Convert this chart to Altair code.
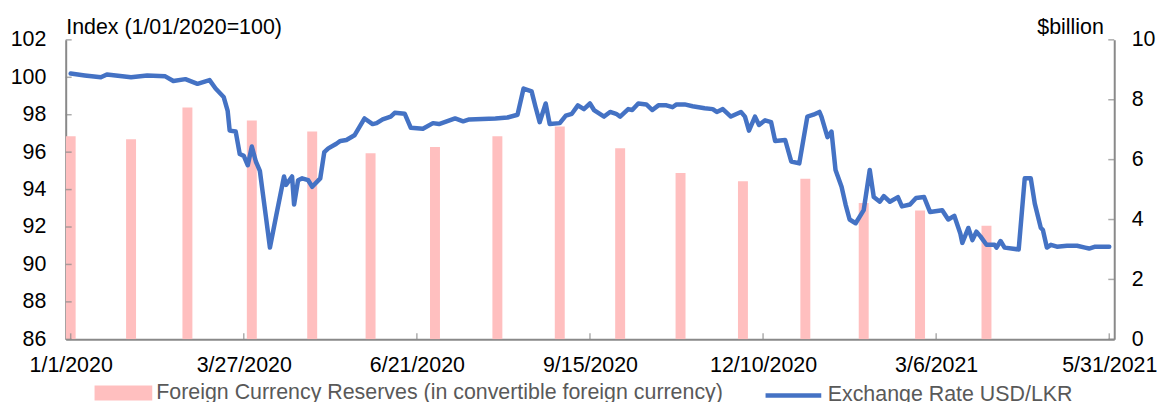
import altair as alt
import pandas as pd

# ---------------- data ----------------
BASE_DATE = "2020-01-01"
# exchange-rate index: days after 1 Jan 2020 and index value (1/01/2020 = 100)
line_days = [0, 7, 15, 18, 30, 38, 47, 51, 57, 63, 69, 72, 76, 78, 79, 82, 84, 86, 88, 90,
             92, 94, 97, 99, 102, 106, 107, 110, 111, 113, 115, 118, 120, 124, 126, 128, 132, 134, 137, 141,
             146, 150, 152, 155, 159, 161, 166, 169, 175, 180, 183, 191, 195, 198, 211, 217, 222, 225, 229, 231,
             233, 236, 238, 243, 246, 249, 252, 255, 258, 260, 265, 268, 271, 273, 277, 279, 282, 286, 289, 292,
             296, 299, 301, 305, 309, 315, 319, 321, 324, 328, 333, 335, 337, 340, 342, 345, 348, 350, 355, 358,
             362, 366, 369, 372, 373, 376, 378, 380, 383, 385, 387, 390, 394, 397, 399, 402, 404, 407, 411, 413,
             417, 420, 424, 427, 433, 436, 439, 442, 443, 446, 448, 450, 452, 455, 459, 460, 462, 464, 471, 474,
             477, 479, 482, 483, 485, 487, 490, 495, 500, 504, 506, 509, 516]
line_index = [100.2, 100.1, 100.0, 100.15, 100.0, 100.1, 100.05, 99.8, 99.9, 99.65, 99.85, 99.4, 98.95, 98.2, 97.15, 97.1, 95.9, 95.8, 95.3, 96.3,
              95.5, 95.0, 92.55, 90.9, 92.55, 94.7, 94.25, 94.7, 93.2, 94.5, 94.6, 94.5, 94.15, 94.6, 96.0, 96.2, 96.45, 96.6, 96.65, 96.9,
              97.8, 97.5, 97.55, 97.75, 97.9, 98.1, 98.05, 97.3, 97.25, 97.55, 97.5, 97.8, 97.65, 97.75, 97.8, 97.85, 98.0, 99.4, 99.25, 98.4,
              97.6, 98.6, 97.5, 97.55, 97.95, 98.05, 98.5, 98.3, 98.6, 98.25, 97.9, 98.15, 98.05, 97.9, 98.3, 98.25, 98.6, 98.55, 98.25, 98.5,
              98.5, 98.4, 98.55, 98.55, 98.45, 98.35, 98.3, 98.15, 98.3, 97.9, 98.15, 97.9, 97.15, 97.9, 97.45, 97.7, 97.6, 96.6, 96.65, 95.5,
              95.4, 97.9, 98.0, 98.15, 97.9, 96.8, 97.1, 95.05, 94.15, 93.2, 92.4, 92.2, 92.9, 95.05, 93.6, 93.35, 93.65, 93.35, 93.6, 93.1,
              93.2, 93.55, 93.6, 92.8, 92.9, 92.4, 92.6, 91.65, 91.15, 91.95, 91.3, 91.75, 91.5, 91.05, 91.05, 90.9, 91.25, 90.9, 90.8, 94.6,
              94.6, 93.25, 91.95, 91.85, 90.9, 91.05, 90.95, 91.0, 91.0, 90.9, 90.85, 90.95, 90.95]

# foreign currency reserves ($ billion), month ends
reserve_dates = ["2020-01-01", "2020-01-31", "2020-02-28", "2020-03-31", "2020-04-30", "2020-05-29",
                 "2020-06-30", "2020-07-31", "2020-08-31", "2020-09-30", "2020-10-30", "2020-11-30",
                 "2020-12-31", "2021-01-29", "2021-02-26", "2021-03-31"]
reserve_vals = [6.78, 6.68, 7.74, 7.31, 6.94, 6.21, 6.42, 6.78, 7.11, 6.38, 5.55, 5.28, 5.36, 4.55, 4.30, 3.79]

x_tick_dates = [(2020, 1, 1), (2020, 3, 27), (2020, 6, 21), (2020, 9, 15), (2020, 12, 10), (2021, 3, 6), (2021, 5, 31)]
left_ticks = [86, 88, 90, 92, 94, 96, 98, 100, 102]
right_ticks = [0, 2, 4, 6, 8, 10]

bar_label = "Foreign Currency Reserves (in convertible foreign currency)"
line_label = "Exchange Rate USD/LKR"

# ---------------- styling ----------------
W, H = 1054, 301
FONT = "Liberation Sans"
FS = 21.5
GRAY = "#898989"
PINK = "#FFBFBF"
BLUE = "#4472C4"

base = pd.Timestamp(BASE_DATE)
line_df = pd.DataFrame({
    "date": [(base + pd.Timedelta(days=d)).strftime("%Y-%m-%d") for d in line_days],
    "index": line_index,
    "series": line_label,
})
bar_df = pd.DataFrame({"date": reserve_dates, "reserves": reserve_vals, "series": bar_label})
xt_df = pd.DataFrame({"date": ["%04d-%02d-%02d" % t for t in x_tick_dates]})

x_scale = alt.Scale(type="utc", domain=[alt.DateTime(year=2020, month=1, date=1, utc=True),
                                        alt.DateTime(year=2021, month=5, date=31, utc=True)])
x_axis = alt.Axis(values=[alt.DateTime(year=y, month=m, date=d, utc=True) for (y, m, d) in x_tick_dates],
                  labelExpr="utcFormat(datum.value, '%-m/%-d/%Y')", tickSize=0, labelPadding=15,
                  labelFontSize=FS, labelFont=FONT, labelColor="black", domainColor=GRAY,
                  domainWidth=2, grid=False, title=None, labelOverlap=False, labelFlush=False,
                  labelBound=False)


def xenc(field):
    return alt.X(field, type="temporal", scale=x_scale, axis=x_axis)


bars = alt.Chart(bar_df).mark_bar(size=10, clip=True).encode(
    x=xenc("date"),
    y=alt.Y("reserves:Q", scale=alt.Scale(domain=[0, 10], nice=False),
            axis=alt.Axis(orient="right", values=right_ticks, tickSize=0, labelPadding=17,
                          labelFontSize=FS, labelFont=FONT, labelColor="black",
                          domainColor=GRAY, domainWidth=2, grid=False,
                          title="$billion", titleAngle=0, titleAlign="right", titleX=-11, titleY=-6,
                          titleBaseline="alphabetic", titleFont=FONT, titleFontSize=FS,
                          titleFontWeight="normal", titleColor="black")),
    fill=alt.Fill("series:N", scale=alt.Scale(domain=[bar_label], range=[PINK]),
                  legend=alt.Legend(orient="none", legendX=29, legendY=326, title=None,
                                    symbolType="M-1,-0.26L1,-0.26L1,0.26L-1,0.26Z",
                                    symbolSize=3364, symbolStrokeWidth=0,
                                    labelFontSize=FS, labelFont=FONT, labelColor="#595959",
                                    labelLimit=800, padding=0)),
)

line = alt.Chart(line_df).mark_line(strokeWidth=4.5, strokeJoin="round", strokeCap="round").encode(
    x=xenc("date"),
    y=alt.Y("index:Q", scale=alt.Scale(domain=[86, 102], nice=False),
            axis=alt.Axis(orient="left", values=left_ticks, tickSize=0, labelPadding=20,
                          labelFontSize=FS, labelFont=FONT, labelColor="black",
                          domainColor=GRAY, domainWidth=2, grid=False,
                          title="Index (1/01/2020=100)", titleAngle=0, titleAlign="left", titleX=0,
                          titleY=-6, titleBaseline="alphabetic", titleFont=FONT, titleFontSize=FS,
                          titleFontWeight="normal", titleColor="black")),
    stroke=alt.Stroke("series:N", scale=alt.Scale(domain=[line_label], range=[BLUE]),
                      legend=alt.Legend(orient="none", legendX=701, legendY=327, title=None,
                                        symbolType="stroke", symbolSize=3136,
                                        symbolStrokeWidth=4.5,
                                        labelFontSize=FS, labelFont=FONT, labelColor="#595959",
                                        labelLimit=800, padding=0)),
)

left_tk = alt.Chart(pd.DataFrame({"v": left_ticks})).mark_tick(
    orient="horizontal", size=6, thickness=1.5, color=GRAY).encode(
    y=alt.Y("v:Q", scale=alt.Scale(domain=[86, 102], nice=False), axis=None),
    x=alt.value(3),
)
right_tk = alt.Chart(pd.DataFrame({"v": right_ticks})).mark_tick(
    orient="horizontal", size=6, thickness=1.5, color=GRAY).encode(
    y=alt.Y("v:Q", scale=alt.Scale(domain=[0, 10], nice=False), axis=None),
    x=alt.value(W - 3),
)
x_tk = alt.Chart(xt_df).mark_tick(orient="vertical", size=6, thickness=1.5, color=GRAY).encode(
    x=xenc("date"),
    y=alt.value(H - 3),
)

chart = alt.layer(bars, line, left_tk, right_tk, x_tk).resolve_scale(
    y="independent", fill="independent", stroke="independent"
).properties(
    width=W, height=H,
    autosize=alt.AutoSizeParams(type="none"),
    padding={"left": 58, "top": 31, "right": 46, "bottom": 62},
    background="white",
).configure_view(stroke=None)

chart.save("out.html", embed_options={"renderer": "svg", "actions": False})
